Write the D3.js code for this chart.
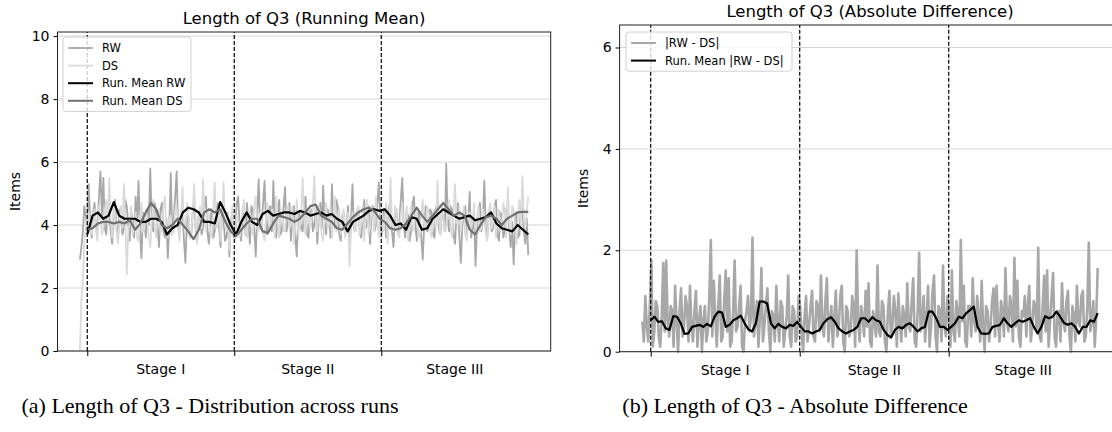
<!DOCTYPE html>
<html>
<head>
<meta charset="utf-8">
<script src="https://cdn.jsdelivr.net/npm/d3@7"></script>
<style>
  body { margin: 0; background: #fff; }
  svg { display: block; }
</style>
</head>
<body>
<svg id="fig" width="1112" height="432"></svg>
<script>
// ---- data ----
const stageNames = ["Stage I", "Stage II", "Stage III"];
const stageBounds = [0, 1, 2];           // dashed lines / major ticks
const stageCenters = [0.5, 1.5, 2.5];    // where the stage labels sit
const ticksLeft = [0, 2, 4, 6, 8, 10];
const ticksRight = [0, 2, 4, 6];

// raw series, evenly spaced from warm-up start to end of stage III
const rw = [2.9,3.3,3.8,4.6,4.3,3.9,5.3,4.1,3.6,4.4,4.7,3.8,4.0,4.9,5.7,4.3,5.5,3.9,3.7,4.6,4.4,3.8,3.4,4.2,4.8,3.9,3.6,4.5,4.3,3.7,3.9,4.8,4.6,4.0,3.5,4.4,4.2,3.6,4.9,4.1,
  5.4,3.8,2.95,4.4,4.1,3.6,4.5,4.0,5.8,4.2,3.8,4.7,4.4,3.9,3.3,4.5,4.7,3.8,3.6,4.2,2.95,4.0,5.65,3.7,4.2,4.9,5.7,4.0,3.9,4.3,4.6,3.5,2.8,4.1,4.3,3.6,3.7,4.4,4.8,3.9,
  3.5,4.3,4.4,3.7,3.9,4.6,4.9,3.8,3.4,4.2,4.5,3.6,3.8,4.4,4.7,3.9,3.3,4.6,4.2,3.5,3.6,4.3,3.0,4.1,4.4,3.6,3.8,4.7,4.9,4.0,3.5,4.4,4.3,3.7,4.7,4.1,3.4,4.6,4.5,3.8,
  3.0,4.4,5.45,3.9,4.0,4.7,5.4,4.1,3.7,4.5,4.6,3.8,5.4,4.2,3.6,4.4,4.8,3.7,3.9,4.6,5.2,3.8,4.1,4.7,3.5,4.2,4.6,3.6,3.0,4.3,4.4,3.9,3.8,4.5,4.9,3.7,3.6,4.4,4.5,3.8,
  4.0,4.6,3.4,4.2,4.7,3.9,5.25,4.1,3.7,4.5,4.3,3.6,5.3,4.2,3.9,4.8,4.6,3.7,3.5,4.3,4.4,3.8,4.0,4.6,3.3,4.1,5.3,3.9,3.8,4.4,4.5,3.7,3.6,4.2,4.8,3.9,4.1,4.6,3.4,4.3,
  4.6,3.8,4.0,4.7,5.35,4.1,3.7,4.5,4.4,3.6,3.9,4.6,4.7,3.8,3.3,4.3,4.5,3.7,4.1,4.8,5.5,4.0,3.6,4.4,4.3,3.5,3.8,4.7,4.9,3.9,3.5,4.4,4.2,3.6,2.9,4.1,4.6,3.8,3.9,4.5,
  4.4,3.7,3.6,4.5,4.8,3.9,3.7,4.4,4.3,3.8,5.95,4.2,3.8,4.6,4.5,3.7,3.4,4.3,4.7,3.6,2.8,4.0,4.2,4.6,3.7,4.1,5.05,3.6,3.9,4.3,2.7,3.9,4.4,4.7,3.8,4.2,5.4,3.9,3.6,4.4,
  4.5,3.8,3.9,4.6,4.8,3.7,3.5,4.4,4.3,3.6,3.8,4.5,4.6,3.9,3.3,4.1,2.75,3.9,4.4,3.6,3.7,4.6,4.5,3.8,3.4,4.2,3.05];
const ds = [0.0,1.6,2.2,3.5,3.9,4.2,4.4,3.9,3.7,4.3,4.5,3.8,3.5,4.6,4.2,3.7,3.9,4.5,4.8,4.0,5.5,4.2,3.6,4.7,4.3,3.8,3.4,4.1,4.6,3.9,5.3,4.0,2.45,3.8,4.1,4.6,3.7,3.9,4.4,3.6,
  3.5,4.2,4.7,3.8,3.9,4.5,4.2,3.6,3.3,4.1,4.8,3.9,3.6,4.4,4.5,3.7,4.0,4.6,4.9,3.8,3.6,4.2,4.3,3.7,3.8,4.5,4.6,3.9,3.5,4.3,5.2,4.0,3.9,4.7,4.4,3.6,3.7,4.5,5.3,4.1,
  3.4,4.2,4.6,3.9,5.45,4.3,3.8,4.5,4.3,3.7,3.6,4.4,5.35,3.9,4.0,4.6,3.5,4.1,5.35,4.0,3.8,4.4,3.2,3.9,4.6,3.8,3.5,4.3,4.2,3.6,3.9,4.5,4.8,3.8,3.6,4.3,4.4,3.9,3.7,4.6,
  4.9,3.9,3.8,4.4,4.2,3.7,3.5,4.3,4.7,4.0,3.9,4.5,4.3,3.6,4.9,4.1,3.6,4.4,4.4,3.8,3.8,4.5,4.6,3.9,4.0,4.6,3.4,4.0,4.8,3.7,3.9,4.4,5.5,4.2,3.7,4.5,4.5,3.9,4.1,4.7,
  5.55,4.1,3.8,4.6,4.4,3.7,3.5,4.2,4.7,3.9,4.0,4.6,3.6,4.3,4.9,3.8,4.2,4.5,3.7,4.3,4.5,3.6,3.9,4.4,2.7,3.8,4.4,4.0,3.8,4.5,4.6,3.7,4.1,4.6,3.5,4.2,4.8,3.7,3.9,4.6,
  4.3,3.8,4.9,4.1,3.6,4.4,4.5,3.8,4.0,4.7,3.4,4.1,5.5,4.0,3.8,4.6,4.4,3.7,3.6,4.3,4.7,3.9,4.2,4.6,3.5,4.1,4.6,3.8,3.9,4.5,4.3,3.6,3.7,4.4,4.8,4.0,3.9,4.6,4.4,3.8,
  3.6,4.3,4.5,3.9,5.4,4.2,3.7,4.6,4.3,3.8,3.9,4.5,4.8,3.9,3.6,4.4,5.3,4.1,4.0,4.6,3.8,4.2,4.6,3.7,3.5,4.3,4.4,3.9,4.1,4.7,3.7,4.2,4.6,3.8,3.9,4.5,4.3,3.7,3.5,4.4,
  4.7,3.9,4.1,4.6,3.6,4.2,4.5,3.8,3.9,4.7,4.4,3.6,5.2,4.1,3.7,4.6,4.5,3.9,3.4,4.3,4.8,4.0,5.55,4.2,3.9,4.5,4.9];

// running means, evenly spaced from stage I start to end of stage III
const meanRw = [3.7,4.3,4.4,4.2,4.3,4.73,4.3,4.2,4.2,4.2,4.1,4.1,4.2,4.2,4.1,3.7,3.9,4.0,4.4,4.55,
  4.5,4.4,4.1,4.1,4.05,4.73,4.4,4.0,3.7,4.1,4.4,4.1,4.0,4.35,4.45,4.3,4.35,4.4,4.4,4.35,
  4.45,4.4,4.3,4.35,4.4,4.3,4.35,4.2,4.1,3.8,4.1,4.2,4.3,4.45,4.5,4.45,4.5,4.3,4.0,4.05,
  3.85,4.25,4.2,3.85,3.9,4.2,4.35,4.5,4.4,4.3,4.2,4.25,4.3,4.15,4.2,4.25,4.4,4.05,3.9,3.85,
  3.8,4.0,3.85,3.7];
const meanDs = [3.85,3.9,4.05,4.1,4.1,4.05,4.1,4.05,4.15,3.85,4.05,4.4,4.7,4.5,4.0,3.9,4.0,4.2,4.0,3.8,
  3.55,3.85,4.4,4.5,4.4,4.5,4.1,3.8,3.65,3.85,4.05,4.2,4.2,3.8,3.75,4.05,4.3,4.25,4.2,4.1,
  4.2,4.4,4.6,4.65,4.3,4.2,4.1,3.9,3.85,4.05,4.25,4.4,4.5,4.55,4.45,4.2,4.1,3.9,3.85,3.9,
  4.05,4.3,4.55,4.3,4.1,4.3,4.5,4.7,4.5,4.3,4.4,4.3,3.85,3.7,4.0,4.25,4.3,4.2,4.0,4.2,
  4.3,4.4,4.42,4.42];

const absDiff = [0.6,0.2,1.1,0.5,0.2,0.9,1.8,0.1,0.4,1.0,0.9,0.3,0.1,0.7,1.75,0.4,1.8,0.6,0.3,0.9,0.8,0.1,1.3,0.6,0.0,0.8,1.25,0.3,0.5,1.1,0.9,0.2,1.3,0.5,0.2,0.8,1.2,0.1,0.6,0.9,
  0.0,0.6,0.9,0.2,0.4,1.1,2.2,0.3,1.4,0.7,0.1,0.9,1.5,0.2,0.3,1.0,1.6,0.4,1.45,0.1,0.2,0.8,1.8,0.4,0.5,0.9,1.3,0.1,0.0,0.6,0.8,1.1,0.4,0.7,2.25,0.3,0.6,1.0,0.1,0.7,
  1.65,0.2,0.5,0.9,1.25,0.4,0.0,0.8,0.7,0.2,1.3,0.6,0.2,1.0,0.9,0.1,0.4,0.7,1.5,0.3,0.1,0.9,0.8,0.2,0.3,1.1,0.9,0.4,0.0,0.7,1.1,0.2,0.5,0.9,1.2,0.3,0.2,1.0,0.9,0.4,
  1.5,0.5,0.3,1.0,1.45,0.2,0.6,0.9,0.1,0.7,1.2,0.3,0.5,1.1,1.3,0.2,0.0,0.9,0.8,0.3,0.4,1.1,0.9,0.1,2.0,0.6,0.2,0.9,0.7,0.3,1.2,0.5,1.35,0.2,0.1,0.8,0.6,0.3,1.7,0.4,
  0.3,1.0,0.9,0.2,0.0,0.8,1.2,0.3,0.5,1.1,0.8,0.1,1.15,0.6,0.2,0.9,0.7,0.3,1.35,0.5,0.4,1.0,1.45,0.2,0.1,0.8,1.95,0.4,0.6,1.1,0.2,0.7,1.3,0.1,0.5,1.2,1.5,0.3,0.0,0.9,
  0.8,0.2,1.7,0.5,0.3,1.1,0.9,0.1,1.6,0.4,0.2,1.0,0.7,0.3,2.2,0.6,1.3,0.2,0.1,0.9,0.9,0.3,1.45,0.6,0.4,1.1,0.7,0.2,1.4,0.5,0.0,0.9,0.8,0.2,0.5,1.0,1.25,0.3,1.3,0.6,
  0.2,1.0,0.8,0.3,1.65,0.6,0.4,1.1,0.9,0.2,1.85,0.5,1.4,0.3,0.1,0.8,0.7,1.1,0.3,0.9,1.3,0.2,0.5,1.0,0.9,0.4,2.05,0.3,0.2,0.9,1.5,0.4,1.6,0.1,0.6,1.1,1.55,0.3,0.1,0.8,
  0.8,0.2,1.35,0.6,0.4,1.0,1.2,0.3,0.0,0.9,0.7,0.2,1.3,0.6,0.5,1.1,1.2,0.2,0.3,0.9,2.15,0.4,0.6,1.0,0.1,0.7,1.65];
const meanAbsDiff = [0.62,0.69,0.59,0.6,0.46,0.43,0.7,0.69,0.56,0.35,0.36,0.49,0.51,0.53,0.49,0.55,0.5,0.69,0.79,0.77,
  0.49,0.53,0.62,0.66,0.71,0.56,0.44,0.4,0.56,0.99,0.99,0.95,0.56,0.46,0.55,0.49,0.46,0.53,0.51,0.59,
  0.49,0.4,0.4,0.36,0.4,0.43,0.56,0.64,0.68,0.59,0.46,0.4,0.36,0.4,0.43,0.49,0.66,0.66,0.59,0.68,
  0.62,0.59,0.43,0.33,0.28,0.43,0.49,0.46,0.53,0.56,0.49,0.4,0.46,0.49,0.79,0.79,0.66,0.49,0.49,0.43,
  0.49,0.56,0.69,0.66,0.76,0.82,0.89,0.49,0.36,0.35,0.36,0.49,0.51,0.53,0.66,0.56,0.49,0.56,0.62,0.59,
  0.62,0.66,0.49,0.36,0.49,0.7,0.66,0.69,0.79,0.69,0.57,0.53,0.56,0.49,0.36,0.49,0.49,0.62,0.59,0.76];

// ---- drawing ----
const svg = d3.select("#fig");
const font = "'DejaVu Sans', sans-serif";

function drawPanel(p) {
  const x = d3.scaleLinear().domain(p.xDomain).range(p.xRange);
  const y = d3.scaleLinear().domain(p.yDomain).range(p.yRange);
  const g = svg.append("g");

  // horizontal grid
  g.selectAll(".grid").data(p.yTicks).enter().append("line")
    .attr("x1", p.xRange[0]).attr("x2", p.xRange[1])
    .attr("y1", d => y(d)).attr("y2", d => y(d))
    .attr("stroke", "#cfcfcf").attr("stroke-width", 0.9);

  const line = d3.line().x(d => x(d[0])).y(d => y(d[1]));

  p.series.forEach(s => {
    // spread values evenly between start and end
    const idx = d3.scaleLinear().domain([0, s.values.length - 1]).range([s.start, 3]);
    const pts = s.values.map((v, i) => [idx(i), v]);
    g.append("path").datum(pts)
      .attr("d", line)
      .attr("fill", "none")
      .attr("stroke", s.color)
      .attr("stroke-width", s.width)
      .attr("stroke-linejoin", "round");
  });

  // stage separators
  g.selectAll(".stage").data(stageBounds).enter().append("line")
    .attr("x1", d => x(d)).attr("x2", d => x(d))
    .attr("y1", p.yRange[0]).attr("y2", p.yRange[1])
    .attr("stroke", "#000").attr("stroke-width", 1.2)
    .attr("stroke-dasharray", "4,2");

  // frame
  g.append("rect")
    .attr("x", p.xRange[0]).attr("y", p.yRange[1])
    .attr("width", p.xRange[1] - p.xRange[0])
    .attr("height", p.yRange[0] - p.yRange[1])
    .attr("fill", "none").attr("stroke", "#222").attr("stroke-width", 1);

  // y axis
  const yAxis = d3.axisLeft(y).tickValues(p.yTicks).tickSize(4).tickPadding(4).tickFormat(d3.format("d"));
  const ya = g.append("g").attr("transform", `translate(${p.xRange[0]},0)`).call(yAxis);
  ya.select(".domain").remove();
  ya.selectAll("text").style("font-family", font).style("font-size", "14px").attr("fill", "#000");

  // x axis: ticks at stage bounds, labels between
  const xAxis = d3.axisBottom(x).tickValues(stageBounds).tickSize(5).tickFormat("");
  const xa = g.append("g").attr("transform", `translate(0,${p.yRange[0]})`).call(xAxis);
  xa.select(".domain").remove();
  g.selectAll(".stagelabel").data(stageCenters).enter().append("text")
    .attr("x", d => x(d)).attr("y", p.yRange[0] + 23)
    .attr("text-anchor", "middle")
    .style("font-family", font).style("font-size", "14px")
    .text((d, i) => stageNames[i]);

  // title and y label
  g.append("text")
    .attr("x", (p.xRange[0] + p.xRange[1]) / 2).attr("y", p.titleY)
    .attr("text-anchor", "middle")
    .style("font-family", font).style("font-size", "16.5px")
    .text(p.title);
  g.append("text")
    .attr("transform", `translate(${p.yLabelX},${(p.yRange[0] + p.yRange[1]) / 2}) rotate(-90)`)
    .attr("text-anchor", "middle")
    .style("font-family", font).style("font-size", "14px")
    .text("Items");

  // legend
  const lg = g.append("g").attr("transform", `translate(${p.legend.x},${p.legend.y})`);
  lg.append("rect")
    .attr("width", p.legend.w).attr("height", p.series.length * 17.6 + 4)
    .attr("rx", 3)
    .attr("fill", "#fff").attr("fill-opacity", 0.8)
    .attr("stroke", "#d0d0d0");
  p.series.forEach((s, i) => {
    const yy = 11 + i * 17.6;
    lg.append("line").attr("x1", 5).attr("x2", 30).attr("y1", yy).attr("y2", yy)
      .attr("stroke", s.color).attr("stroke-width", Math.min(s.width, 2));
    lg.append("text").attr("x", 39).attr("y", yy + 4)
      .style("font-family", font).style("font-size", "11.5px")
      .text(s.name);
  });
}

drawPanel({
  title: "Length of Q3 (Running Mean)",
  titleY: 24,
  xDomain: [-0.2025, 3.1525], xRange: [57.5, 550.7],
  yDomain: [0, 10.13], yRange: [351, 32],
  yTicks: ticksLeft, yLabelX: 20,
  legend: { x: 63, y: 37, w: 128 },
  series: [
    { name: "RW", values: rw, start: -0.05, color: "#a8a8a8", width: 1.8 },
    { name: "DS", values: ds, start: -0.05, color: "#dadada", width: 1.8 },
    { name: "Run. Mean RW", values: meanRw, start: 0, color: "#000", width: 2.2 },
    { name: "Run. Mean DS", values: meanDs, start: 0, color: "#707070", width: 2.2 }
  ]
});

drawPanel({
  title: "Length of Q3 (Absolute Difference)",
  titleY: 17,
  xDomain: [-0.2088, 3.1528], xRange: [619.6, 1120.5],
  yDomain: [0, 6.444], yRange: [351.7, 25],
  yTicks: ticksRight, yLabelX: 588,
  legend: { x: 626, y: 32, w: 166 },
  series: [
    { name: "|RW - DS|", values: absDiff, start: -0.056, color: "#a8a8a8", width: 2.6 },
    { name: "Run. Mean |RW - DS|", values: meanAbsDiff, start: 0, color: "#000", width: 2.2 }
  ]
});

// sub-figure captions
const captions = [
  { text: "(a) Length of Q3 - Distribution across runs", x: 210 },
  { text: "(b) Length of Q3 - Absolute Difference", x: 795 }
];
svg.selectAll(".caption").data(captions).enter().append("text")
  .attr("x", d => d.x).attr("y", 413)
  .attr("text-anchor", "middle")
  .style("font-family", "'Liberation Serif', serif").style("font-size", "22px")
  .text(d => d.text);
</script>
</body>
</html>
